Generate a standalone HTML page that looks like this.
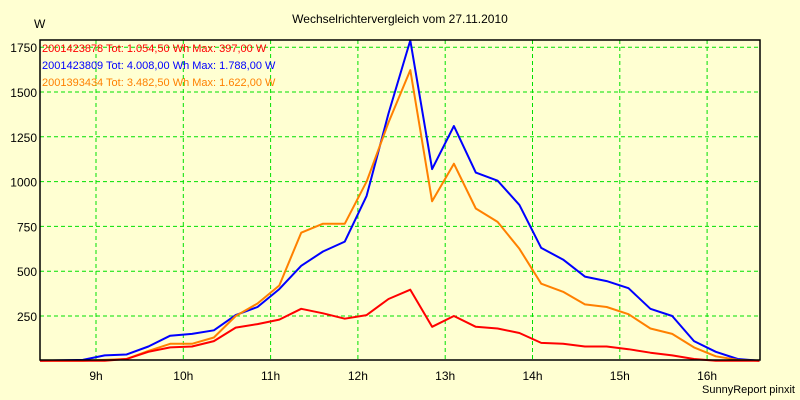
<!DOCTYPE html>
<html><head><meta charset="utf-8"><style>
html,body{margin:0;padding:0;background:#ffffd2;}
svg{display:block;font-family:"Liberation Sans",sans-serif;}
</style></head><body>
<svg id="chart" width="800" height="400">
<rect x="0" y="0" width="800" height="400" fill="#ffffd2"/>
<text x="400" y="23" font-size="12" text-anchor="middle">Wechselrichtervergleich vom 27.11.2010</text>
<text x="34" y="28" font-size="12">W</text>
<g id="grid"></g>
<g id="series"></g>
<g id="axes"></g>
<g id="legend"></g>
<text x="795" y="393" font-size="11" text-anchor="end">SunnyReport pinxit</text>
</svg>
<script>
const times = [8.36,8.85,9.1,9.35,9.6,9.85,10.1,10.35,10.6,10.85,11.1,11.35,11.6,11.85,12.1,12.35,12.6,12.85,13.1,13.35,13.6,13.85,14.1,14.35,14.6,14.85,15.1,15.35,15.6,15.85,16.1,16.35,16.6];
const redValues = [0,0,0,10,50,75,80,110,185,205,230,290,265,235,255,345,397,190,250,190,180,155,100,95,80,80,65,45,30,10,0,0,0];
const blueValues = [0,5,30,35,80,140,150,170,255,300,400,530,610,665,920,1380,1788,1070,1310,1050,1005,870,630,565,470,445,405,290,250,110,50,10,0];
const orangeValues = [0,0,5,10,55,95,95,130,250,320,420,715,765,765,1000,1330,1622,890,1100,850,775,625,430,385,315,300,260,180,150,75,25,5,0];
const yTicks = [250,500,750,1000,1250,1500,1750];
const xTicks = [9,10,11,12,13,14,15,16];
const legendLabels = ["2001423878 Tot: 1.054,50 Wh Max: 397,00 W","2001423809 Tot: 4.008,00 Wh Max: 1.788,00 W","2001393434 Tot: 3.482,50 Wh Max: 1.622,00 W"];

const NS="http://www.w3.org/2000/svg";
const L=40,R=760,T=40,B=360;
const x=t=>96+(t-9)*87.3;
const y=v=>360.8-v*0.1792;
function mk(tag,attrs,parent){const e=document.createElementNS(NS,tag);for(const k in attrs)e.setAttribute(k,attrs[k]);parent.appendChild(e);return e;}
const grid=document.getElementById('grid'),ser=document.getElementById('series'),axes=document.getElementById('axes'),leg=document.getElementById('legend');
yTicks.forEach(v=>{
  const ln=mk('line',{x1:L,x2:R,y1:y(v),y2:y(v),stroke:'#00e000','stroke-dasharray':'4,3'},grid);
  
  
  const tx=mk('text',{x:37,y:y(v)+5,'font-size':12,'text-anchor':'end'},axes);
  tx.textContent=v;
  
  
});
xTicks.forEach(h=>{
  const ln=mk('line',{x1:x(h),x2:x(h),y1:T,y2:B,stroke:'#00e000','stroke-dasharray':'4,3'},grid);
  
  
  const tx=mk('text',{x:x(h),y:380,'font-size':12,'text-anchor':'middle'},axes);
  tx.textContent=h+'h';
  
  
});
const frame=mk('rect',{x:L,y:T,width:R-L,height:B-T,fill:'none',stroke:'#000','stroke-width':1.5},axes);


[[blueValues,'#0000ff','series-2001423809'],[orangeValues,'#ff8000','series-2001393434'],[redValues,'#ff0000','series-2001423878']].forEach(([vals,c,n])=>{
  const pts=vals.map((v,i)=>x(times[i]).toFixed(1)+','+y(v).toFixed(1)).join(' ');
  const pl=mk('polyline',{points:pts,fill:'none',stroke:c,'stroke-width':2,'stroke-linejoin':'round'},ser);
  
  
});
const cols=['#ff0000','#0000ff','#ff8000'];
legendLabels.forEach((s,i)=>{
  const tx=mk('text',{x:42,y:52+i*17,'font-size':11,fill:cols[i]},leg);
  tx.textContent=s;
  
  
});
</script>
</body></html>
